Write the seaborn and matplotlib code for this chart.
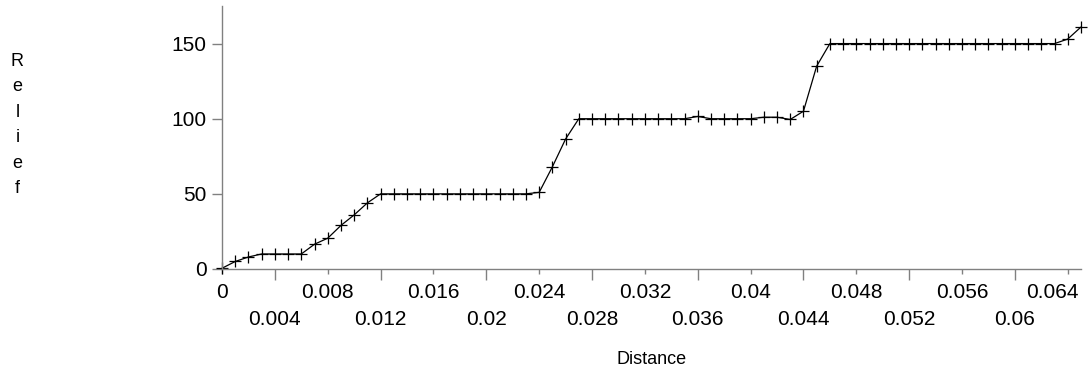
import matplotlib
matplotlib.use("Agg")
import matplotlib.pyplot as plt
from matplotlib.transforms import ScaledTranslation
import seaborn as sns
import pandas as pd

distance = [0.000, 0.001, 0.002, 0.003, 0.004, 0.005, 0.006, 0.007, 0.008, 0.009,
            0.010, 0.011, 0.012, 0.013, 0.014, 0.015, 0.016, 0.017, 0.018, 0.019,
            0.020, 0.021, 0.022, 0.023, 0.024, 0.025, 0.026, 0.027, 0.028, 0.029,
            0.030, 0.031, 0.032, 0.033, 0.034, 0.035, 0.036, 0.037, 0.038, 0.039,
            0.040, 0.041, 0.042, 0.043, 0.044, 0.045, 0.046, 0.047, 0.048, 0.049,
            0.050, 0.051, 0.052, 0.053, 0.054, 0.055, 0.056, 0.057, 0.058, 0.059,
            0.060, 0.061, 0.062, 0.063, 0.064, 0.065]
relief = [0.5, 5, 8, 10, 10, 10, 10, 16.5, 20.5, 29,
          36, 44, 50, 50, 50, 50, 50, 50, 50, 50,
          50, 50, 50, 50, 51, 68, 86.5, 100, 100, 100,
          100, 100, 100, 100, 100, 100, 101.5, 100, 100, 100,
          100, 101, 101, 99.5, 105, 135, 150, 150, 150, 150,
          150, 150, 150, 150, 150, 150, 150, 150, 150, 150,
          150, 150, 150, 150, 153, 161]

major_ticks = [0, 0.008, 0.016, 0.024, 0.032, 0.04, 0.048, 0.056, 0.064]
major_labels = ["0", "0.008", "0.016", "0.024", "0.032", "0.04", "0.048", "0.056", "0.064"]
minor_ticks = [0.004, 0.012, 0.02, 0.028, 0.036, 0.044, 0.052, 0.06]
minor_labels = ["0.004", "0.012", "0.02", "0.028", "0.036", "0.044", "0.052", "0.06"]
y_ticks = [0, 50, 100, 150]
y_labels = ["0", "50", "100", "150"]

df = pd.DataFrame({"Distance": distance, "Relief": relief})

sns.set_style("white")
plt.rcParams["font.family"] = ["Liberation Sans", "DejaVu Sans"]
FS = 15
TS = 13
plt.rcParams["font.size"] = FS

fig = plt.figure(figsize=(10.89, 3.76), dpi=100)
ax = fig.add_axes([0.2039, 0.2846, 0.7887, 0.6994])

sns.lineplot(data=df, x="Distance", y="Relief", ax=ax, color="black",
             linewidth=0.9, marker="+", markersize=8, markeredgewidth=0.9,
             markeredgecolor="black", clip_on=False)

ax.set_xlim(0, 0.065)
ax.set_ylim(0, 175)

ax.set_xticks(major_ticks)
ax.set_xticklabels(major_labels)
ax.set_xticks(minor_ticks, minor=True)
ax.set_xticklabels(minor_labels, minor=True)
ax.set_yticks(y_ticks)
ax.set_yticklabels(y_labels)

axis_col = "#808080"
for s in ["top", "right"]:
    ax.spines[s].set_visible(False)
for s in ["left", "bottom"]:
    ax.spines[s].set_color(axis_col)
    ax.spines[s].set_linewidth(1.0)

ax.tick_params(axis="x", which="major", direction="out", length=3.6, width=1,
               color=axis_col, pad=6.5, labelsize=FS, labelcolor="black", bottom=True)
ax.tick_params(axis="x", which="minor", direction="out", length=7.9, width=1,
               color=axis_col, pad=21.5, labelsize=FS, labelcolor="black", bottom=True)
ax.tick_params(axis="y", which="major", direction="out", length=7.2, width=1,
               color=axis_col, pad=4, labelsize=FS, labelcolor="black", left=True)

# keep the last major label inside the figure, as in the reference
last = ax.get_xticklabels()[-1]
last.set_horizontalalignment("right")
last.set_transform(last.get_transform() + ScaledTranslation(0.11, 0, fig.dpi_scale_trans))

ax.set_xlabel("Distance", fontsize=TS, labelpad=16, color="black")
ax.set_ylabel("")
fig.text(0.016, 0.668, "R\ne\nl\ni\ne\nf", ha="center", va="center",
         fontsize=TS, linespacing=1.65, color="black")

fig.savefig("out.png", dpi=100)
